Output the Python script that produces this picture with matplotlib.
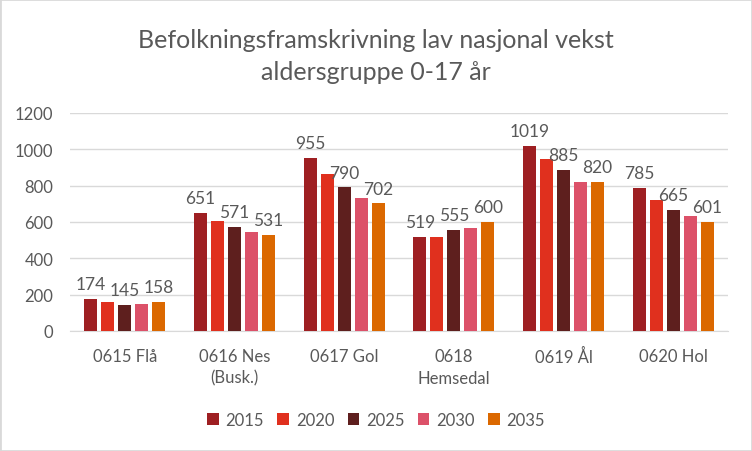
import numpy as np
import matplotlib.pyplot as plt
from matplotlib.patches import Rectangle

plt.rcParams['font.family'] = ['Lato', 'DejaVu Sans']

kommuner = ["0615 Flå", "0616 Nes\n(Busk.)", "0617 Gol", "0618\nHemsedal", "0619 Ål", "0620 Hol"]
years = ["2015", "2020", "2025", "2030", "2035"]

v2015 = [174, 651, 955, 519, 1019, 785]
v2020 = [157, 607, 865, 520, 948, 722]
v2025 = [145, 571, 790, 555, 885, 665]
v2030 = [151, 546, 733, 568, 821, 634]
v2035 = [158, 531, 702, 600, 820, 601]

series = [v2015, v2020, v2025, v2030, v2035]
colors = ["#9E1F22", "#E0301E", "#5E1F1E", "#DC5169", "#DB6800"]
# only these series get data labels in the original
labelled = [0, 2, 4]

txt = "#595959"

fig = plt.figure(figsize=(7.52, 4.52), dpi=100)
fig.patches.append(Rectangle((0, 0), 1, 1, transform=fig.transFigure, fill=False,
                             edgecolor="#D9D9D9", linewidth=2))
ax = fig.add_axes([70/752, 120/452, 658/752, 218/452])

x = np.arange(len(kommuner))
pitch = 0.155
w = 0.116
for i, (vals, c) in enumerate(zip(series, colors)):
    pos = x + (i - 2) * pitch
    ax.bar(pos, vals, width=w, color=c, label=years[i], zorder=3)
    if i in labelled:
        for p, v in zip(pos, vals):
            ax.annotate(str(v), (p, v), xytext=(0, 5), textcoords="offset points",
                        ha="center", va="bottom", fontsize=12.5, color=txt)

ax.set_ylim(0, 1200)
ax.set_xlim(-0.5, len(kommuner) - 0.5)
ax.set_yticks(range(0, 1201, 200))
ax.yaxis.grid(True, color="#D9D9D9", linewidth=1, zorder=0)
for s in ["top", "right", "left"]:
    ax.spines[s].set_visible(False)
ax.spines["bottom"].set_color("#D9D9D9")
ax.set_xticks(x)
ax.set_xticklabels(kommuner, va="top", linespacing=1.45)
ax.tick_params(axis="both", length=0, labelsize=12, labelcolor=txt)
ax.tick_params(axis="x", pad=12)
ax.tick_params(axis="y", pad=12)

fig.text(0.5, 1 - 40/452, "Befolkningsframskrivning lav nasjonal vekst", ha="center",
         va="center", fontsize=18, color=txt)
fig.text(0.5, 1 - 72/452, "aldersgruppe 0-17 år", ha="center", va="center",
         fontsize=18, color=txt)

fig.legend(loc="center", bbox_to_anchor=(0.5, 1 - 421/452), ncol=5, frameon=False,
           fontsize=12, labelcolor=txt, handlelength=0.7, handleheight=0.7,
           handletextpad=0.4, columnspacing=0.8)

fig.savefig("out.png", dpi=100)
